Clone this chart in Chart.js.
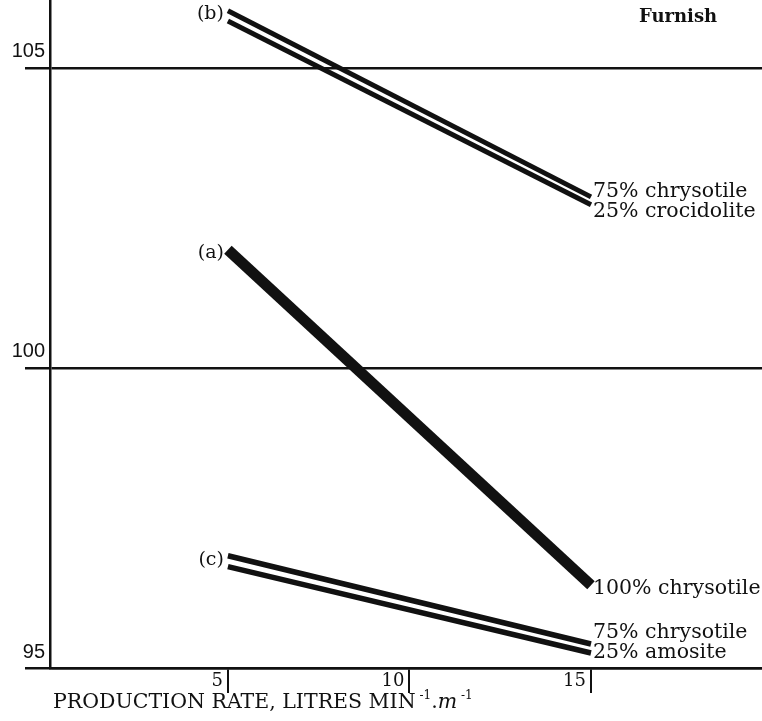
<!DOCTYPE html>
<html>
<head>
<meta charset="utf-8">
<script src="https://cdn.jsdelivr.net/npm/chart.js@4"></script>
<style>
  html, body { margin: 0; padding: 0; background: #fff; }
  #wrap { width: 762px; height: 721px; }
</style>
</head>
<body>
<div id="wrap"><canvas id="chart" width="762" height="721"></canvas></div>
<script>
// production rate, litres/min per metre
const xVals = [5, 15];
// (b) 75% chrysotile / 25% crocidolite - drawn as a double line
const bUpper = [105.95, 102.85];
const bLower = [105.78, 102.72];
// (a) 100% chrysotile - single heavy line
const aLine = [101.97, 96.38];
// (c) 75% chrysotile / 25% amosite - double line
const cUpper = [96.87, 95.40];
const cLower = [96.69, 95.25];

const yTicks = [95, 100, 105];
const xTicks = [5, 10, 15];

const seriesTags = ['(b)', '(a)', '(c)'];
const furnishB = ['75% chrysotile', '25% crocidolite'];
const furnishA = ['100% chrysotile'];
const furnishC = ['75% chrysotile', '25% amosite'];

const ink = '#111';

function pts(vals) {
  return xVals.map((x, i) => ({ x: x, y: vals[i] }));
}

function lineSet(vals, w) {
  return {
    data: pts(vals),
    borderColor: ink,
    borderWidth: w,
    borderCapStyle: 'butt',
    pointRadius: 0,
    tension: 0
  };
}

// labels and axis title
const notes = {
  id: 'notes',
  afterDatasetsDraw(chart) {
    const ctx = chart.ctx;
    const x = chart.scales.x, y = chart.scales.y;
    ctx.save();
    ctx.fillStyle = ink;

    // series tags at the start of each line
    ctx.font = '19px "DejaVu Serif"';
    ctx.textAlign = 'right';
    ctx.textBaseline = 'middle';
    const x5 = x.getPixelForValue(xVals[0]) - 4;
    ctx.fillText(seriesTags[0], x5, y.getPixelForValue(bUpper[0]) + 3);
    ctx.fillText(seriesTags[1], x5, y.getPixelForValue(aLine[0]) + 3);
    ctx.fillText(seriesTags[2], x5, y.getPixelForValue(cUpper[0]) + 4);

    // furnish labels at the end of each line
    ctx.textAlign = 'left';
    ctx.font = '20.5px "DejaVu Serif"';
    const x15 = x.getPixelForValue(xVals[1]) + 2;
    const bEnd = (y.getPixelForValue(bUpper[1]) + y.getPixelForValue(bLower[1])) / 2;
    ctx.fillText(furnishB[0], x15, bEnd - 9);
    ctx.fillText(furnishB[1], x15, bEnd + 11);
    ctx.fillText(furnishA[0], x15, y.getPixelForValue(aLine[1]) + 3);
    const cEnd = (y.getPixelForValue(cUpper[1]) + y.getPixelForValue(cLower[1])) / 2;
    ctx.fillText(furnishC[0], x15, cEnd - 16);
    ctx.fillText(furnishC[1], x15, cEnd + 4);

    ctx.font = 'bold 18px "DejaVu Serif"';
    ctx.fillText('Furnish', 639, 17);

    // x axis title with superscripts
    let tx = 53;
    const ty = 703;
    const part = (txt, font, dy) => {
      ctx.font = font;
      ctx.fillText(txt, tx, ty + dy);
      tx += ctx.measureText(txt).width;
    };
    part('PRODUCTION RATE, LITRES MIN', '20.5px "DejaVu Serif"', 0);
    part(' -1', '12px "DejaVu Serif"', -7);
    part('.', '20.5px "DejaVu Serif"', 0);
    part('m', 'italic 20.5px "DejaVu Serif"', 0);
    part(' -1', '12px "DejaVu Serif"', -7);
    ctx.restore();
  }
};

new Chart(document.getElementById('chart').getContext('2d'), {
  type: 'line',
  data: {
    datasets: [
      lineSet(bUpper, 5),
      lineSet(bLower, 5),
      lineSet(aLine, 11),
      lineSet(cUpper, 5.5),
      lineSet(cLower, 5.5)
    ]
  },
  options: {
    responsive: false,
    animation: false,
    layout: { padding: 0 },
    plugins: { legend: { display: false }, tooltip: { enabled: false } },
    scales: {
      x: {
        type: 'linear',
        min: 0.1,
        max: 19.71,
        afterBuildTicks: (s) => { s.ticks = xTicks.map(v => ({ value: v })); },
        afterFit: (s) => { s.height = 53; },
        border: { color: ink, width: 2.5 },
        grid: { drawOnChartArea: false, drawTicks: true, tickLength: 25, color: ink, lineWidth: 2 },
        ticks: {
          align: 'end',
          labelOffset: -5,
          padding: -22,
          color: ink,
          font: { family: 'DejaVu Serif', size: 18 }
        }
      },
      y: {
        min: 95,
        max: 106.13,
        afterBuildTicks: (s) => { s.ticks = yTicks.map(v => ({ value: v })); },
        afterFit: (s) => { s.width = 50; },
        border: { color: ink, width: 2.5 },
        grid: { drawTicks: true, tickLength: 25, color: ink, lineWidth: 2.5 },
        ticks: {
          labelOffset: -16,
          padding: -20,
          color: ink,
          font: { family: 'Liberation Sans', size: 20 }
        }
      }
    }
  },
  plugins: [notes]
});
</script>
</body>
</html>
